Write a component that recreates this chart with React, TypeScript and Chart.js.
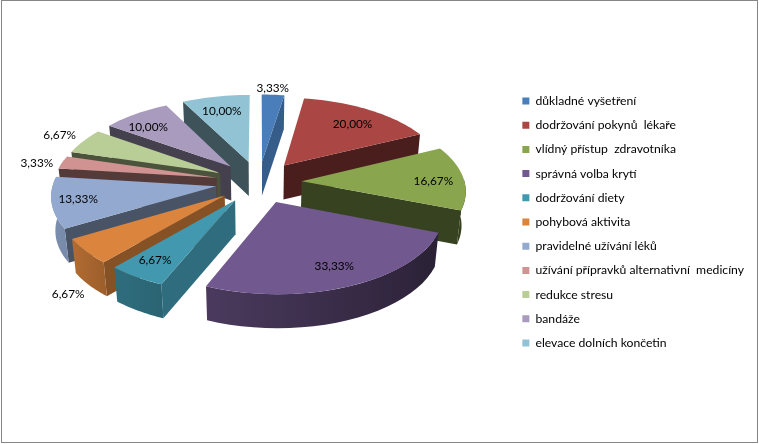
import React, { useEffect, useRef } from "react";
import { Chart, registerables } from "chart.js";

Chart.register(...registerables);

const categories = [
  "důkladné vyšetření",
  "dodržování pokynů  lékaře",
  "vlídný přístup  zdravotníka",
  "správná volba krytí",
  "dodržování diety",
  "pohybová aktivita",
  "pravidelné užívání léků",
  "užívání přípravků alternativní  medicíny",
  "redukce stresu",
  "bandáže",
  "elevace dolních končetin",
];
const values = [3.33, 20.0, 16.67, 33.33, 6.67, 6.67, 13.33, 3.33, 6.67, 10.0, 10.0];
const colors = ["#4A7EBB", "#AA4643", "#89A54E", "#71588F", "#4198AF", "#DB843D", "#93A9CF", "#D19392", "#B9CD96", "#A99BBD", "#92C3D5"];
// label placement along each slice's radius (1 = rim) and its angular nudge in degrees
const labelRadius = [1.11, 0.75, 0.81, 0.78, 0.8, 1.36, 0.84, 1.155, 1.19, 0.78, 0.76];
const labelNudge = [-0.5, 1.9, 2.1, -1, 1.1, -13.2, 1, -2, 0.5, -4.4, -0.6];

const EXPLODE = 41;
const RADIUS = 155;
const TILT = 0.5;
const DEPTH = 34;
const SHIFT_Y = -40;
const SHIFT_X = 3.5;
const WIDEN = 1.02;

const outerShade: [number, number][] = [[90, 0.4], [120, 0.38], [160, 0.5], [203, 0.66], [221, 0.72], [240, 0.82], [270, 0.88]];
const wallShade: [number, number][] = [[90, 0.74], [113, 0.72], [131, 0.62], [150, 0.49], [155, 0.43], [187, 0.4], [242, 0.42], [270, 0.42]];

function lookup(table: [number, number][], deg: number) {
  const d = ((deg % 360) + 360) % 360;
  if (d <= table[0][0]) return table[0][1];
  for (let i = 1; i < table.length; i++) {
    if (d <= table[i][0]) {
      const [a, av] = table[i - 1];
      const [b, bv] = table[i];
      return av + ((bv - av) * (d - a)) / (b - a);
    }
  }
  return table[table.length - 1][1];
}

function dim(hex: string, f: number) {
  const n = parseInt(hex.slice(1), 16);
  return `rgb(${Math.round(((n >> 16) & 255) * f)},${Math.round(((n >> 8) & 255) * f)},${Math.round((n & 255) * f)})`;
}

const pie3d = {
  id: "pie3d",
  beforeDatasetDraw(chart: any) {
    const ctx = chart.ctx;
    const meta = chart.getDatasetMeta(0);
    const project = (cx: number, cy: number, u: number, v: number, z = 0) => {
      const s = 1.03 + 0.0007 * v;
      return [cx + u * s * WIDEN * (1 - z * 0.0006), cy + v * TILT * s + z];
    };
    const slices = meta.data.map((el: any, index: number) => {
      const p = el.getProps(["x", "y", "startAngle", "endAngle", "outerRadius"], true);
      const a0 = p.startAngle + Math.PI / 2;
      const a1 = p.endAngle + Math.PI / 2;
      const m = (a0 + a1) / 2;
      return { index, el, p, a0, a1, m, off: el.options.offset };
    });
    const order = [...slices].sort((a, b) => -Math.cos(a.m) - -Math.cos(b.m));
    for (const s of order) {
      const cx = s.p.x + SHIFT_X;
      const cy = s.p.y + SHIFT_Y;
      const col = colors[s.index];
      const ox = s.off * Math.sin(s.m);
      const oy = -s.off * Math.cos(s.m);
      const rim = (t: number, z = 0) =>
        project(cx, cy, ox + s.p.outerRadius * Math.sin(t), oy - s.p.outerRadius * Math.cos(t), z);
      const apex = (z = 0) => project(cx, cy, ox, oy, z);
      // radial walls facing the viewer
      for (const [t, sign] of [[s.a0, -1], [s.a1, 1]] as [number, number][]) {
        const normal = t + (sign * Math.PI) / 2;
        if (-Math.cos(normal) > 0) {
          const deg = (normal * 180) / Math.PI;
          const pts = [apex(), rim(t), rim(t, DEPTH), apex(DEPTH)];
          ctx.beginPath();
          pts.forEach((q, i) => (i ? ctx.lineTo(q[0], q[1]) : ctx.moveTo(q[0], q[1])));
          ctx.closePath();
          ctx.fillStyle = dim(col, lookup(wallShade, deg));
          ctx.fill();
        }
      }
      // rim wall, shaded with a horizontal gradient
      const from = Math.max(s.a0, Math.PI / 2 - 0.03);
      const to = Math.min(s.a1, (3 * Math.PI) / 2 + 0.12);
      if (to > from) {
        const n = 24;
        const xa = rim(from)[0];
        const xb = rim(to)[0];
        const grad = ctx.createLinearGradient(xa, 0, xb, 0);
        ctx.beginPath();
        for (let i = 0; i <= n; i++) {
          const t = from + ((to - from) * i) / n;
          const q = rim(t);
          i ? ctx.lineTo(q[0], q[1]) : ctx.moveTo(q[0], q[1]);
          const stop = Math.min(1, Math.max(0, (q[0] - xa) / (xb - xa || 1)));
          grad.addColorStop(stop, dim(col, lookup(outerShade, (t * 180) / Math.PI)));
        }
        for (let i = n; i >= 0; i--) {
          const q = rim(from + ((to - from) * i) / n, DEPTH);
          ctx.lineTo(q[0], q[1]);
        }
        ctx.closePath();
        ctx.fillStyle = grad;
        ctx.fill();
      }
      // top face
      ctx.beginPath();
      const a = apex();
      ctx.moveTo(a[0], a[1]);
      const steps = Math.max(8, Math.ceil(((s.a1 - s.a0) * 180) / Math.PI / 2));
      for (let i = 0; i <= steps; i++) {
        const q = rim(s.a0 + ((s.a1 - s.a0) * i) / steps);
        ctx.lineTo(q[0], q[1]);
      }
      ctx.closePath();
      ctx.fillStyle = col;
      ctx.fill();
    }
    // value labels
    ctx.fillStyle = "#000";
    ctx.font = "11.8px Lato";
    ctx.textAlign = "center";
    ctx.textBaseline = "middle";
    for (const s of slices) {
      const r = s.p.outerRadius * labelRadius[s.index];
      const ang = s.m + (labelNudge[s.index] * Math.PI) / 180;
      const cx = s.p.x + SHIFT_X;
      const cy = s.p.y + SHIFT_Y;
      const q = project(cx, cy, s.off * Math.sin(s.m) + r * Math.sin(ang), -s.off * Math.cos(s.m) - r * Math.cos(ang));
      ctx.fillText(values[s.index].toFixed(2).replace(".", ",") + "%", q[0], q[1]);
    }
    return false;
  },
};

export default function App() {
  const ref = useRef<HTMLCanvasElement>(null);
  useEffect(() => {
    const chart = new Chart(ref.current!, {
      type: "pie",
      data: {
        labels: categories,
        datasets: [{ data: values, backgroundColor: colors, borderWidth: 0, offset: EXPLODE }],
      },
      options: {
        responsive: false,
        animation: false,
        radius: RADIUS,
        rotation: 0,
        layout: { padding: { right: 5, top: 0, bottom: 0 } },
        plugins: {
          tooltip: { enabled: false },
          title: { display: false },
          legend: {
            display: true,
            position: "right",
            labels: {
              boxWidth: 7,
              boxHeight: 7,
              padding: 12,
              color: "#000",
              font: { family: "Lato", size: 12.2 },
            },
          },
        },
      } as any,
      plugins: [pie3d as any],
    });
    return () => chart.destroy();
  }, []);
  return (
    <div style={{ position: "absolute", left: 0, top: 0, width: 759, height: 444, background: "#fff" }}>
      <canvas ref={ref} width={759} height={444} style={{ display: "block" }} />
      <div style={{ position: "absolute", left: 1, top: 0, right: 1, bottom: 1, boxSizing: "border-box", border: "1px solid #868686", pointerEvents: "none" }} />
    </div>
  );
}
